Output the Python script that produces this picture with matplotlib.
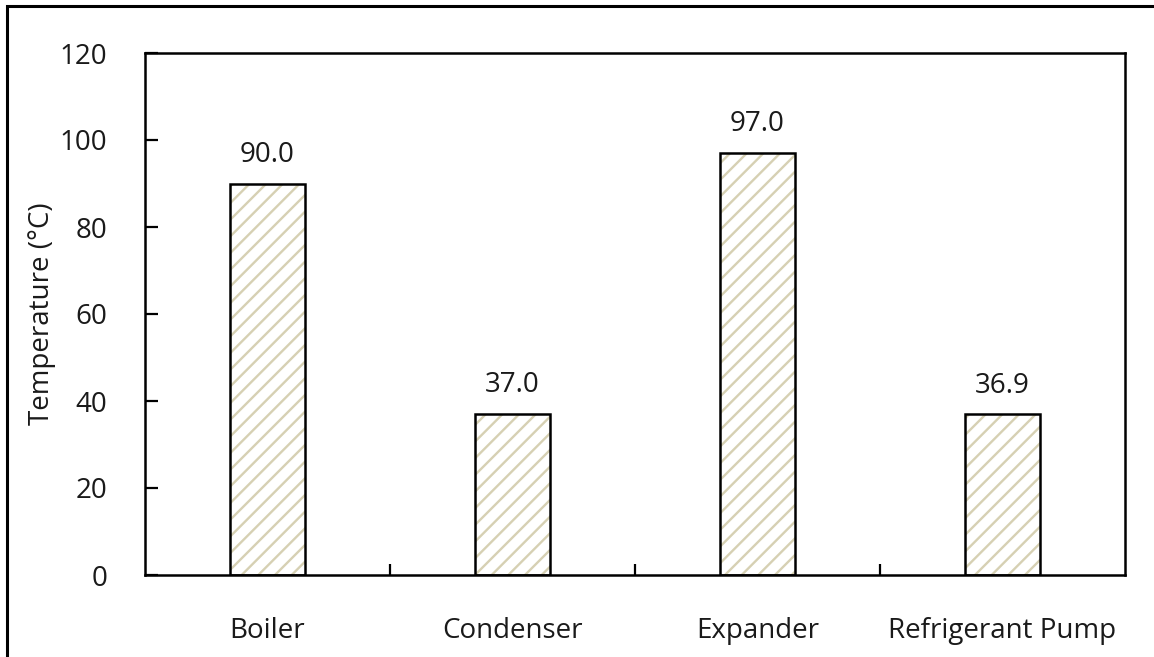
import matplotlib
matplotlib.use("Agg")
import matplotlib.pyplot as plt
from matplotlib.patches import Rectangle
from matplotlib.ticker import MultipleLocator, FixedLocator

categories = ["Boiler", "Condenser", "Expander", "Refrigerant Pump"]
temperatures = [90.0, 37.0, 97.0, 36.9]
value_labels = ["90.0", "37.0", "97.0", "36.9"]

plt.rcParams["font.family"] = ["Open Sans", "DejaVu Sans"]
plt.rcParams["hatch.linewidth"] = 1.7

W, H = 1154, 657
fig = plt.figure(figsize=(W / 100, H / 100), dpi=100)
fig.patch.set_facecolor("white")

# outer frame around the chart area
fig.patches.append(Rectangle((7 / W, -0.1), 1.2, 1.1 - 6 / H,
                             transform=fig.transFigure, fill=False,
                             edgecolor="black", linewidth=2.2, zorder=0))

ax = fig.add_axes([145 / W, 1 - 575 / H, (1125 - 145) / W, (575 - 53) / H])

x = list(range(len(categories)))
hatch_col = "#d6d0b3"
ax.bar(x, temperatures, width=0.31, color="white", edgecolor=hatch_col,
       hatch="//", linewidth=0, zorder=2)
ax.bar(x, temperatures, width=0.31, fill=False, edgecolor="black",
       linewidth=1.8, zorder=3)

for xi, v, lab in zip(x, temperatures, value_labels):
    ax.annotate(lab, (xi, v), xytext=(0, 10.5), textcoords="offset points",
                ha="center", va="bottom", fontsize=20, color="#1a1a1a")

ax.set_xlim(-0.5, len(categories) - 0.5)
ax.set_ylim(0, 120)
ax.yaxis.set_major_locator(MultipleLocator(20))
ax.set_xticks(x)
ax.set_xticklabels(categories)
ax.xaxis.set_minor_locator(FixedLocator([0.5, 1.5, 2.5]))

ax.tick_params(axis="x", which="major", length=0, pad=30, labelsize=20,
               colors="#1a1a1a")
ax.tick_params(axis="x", which="minor", direction="in", length=8, width=1.6)
ax.tick_params(axis="y", direction="in", length=9, width=1.6, pad=27,
               labelsize=20, colors="#1a1a1a")
ax.tick_params(axis="both", which="both", color="black")

for s in ax.spines.values():
    s.set_linewidth(1.8)
    s.set_color("black")

ax.set_ylabel("Temperature (°C)", fontsize=20, labelpad=3, color="#1a1a1a")

fig.savefig("out.png", dpi=100, facecolor="white")
